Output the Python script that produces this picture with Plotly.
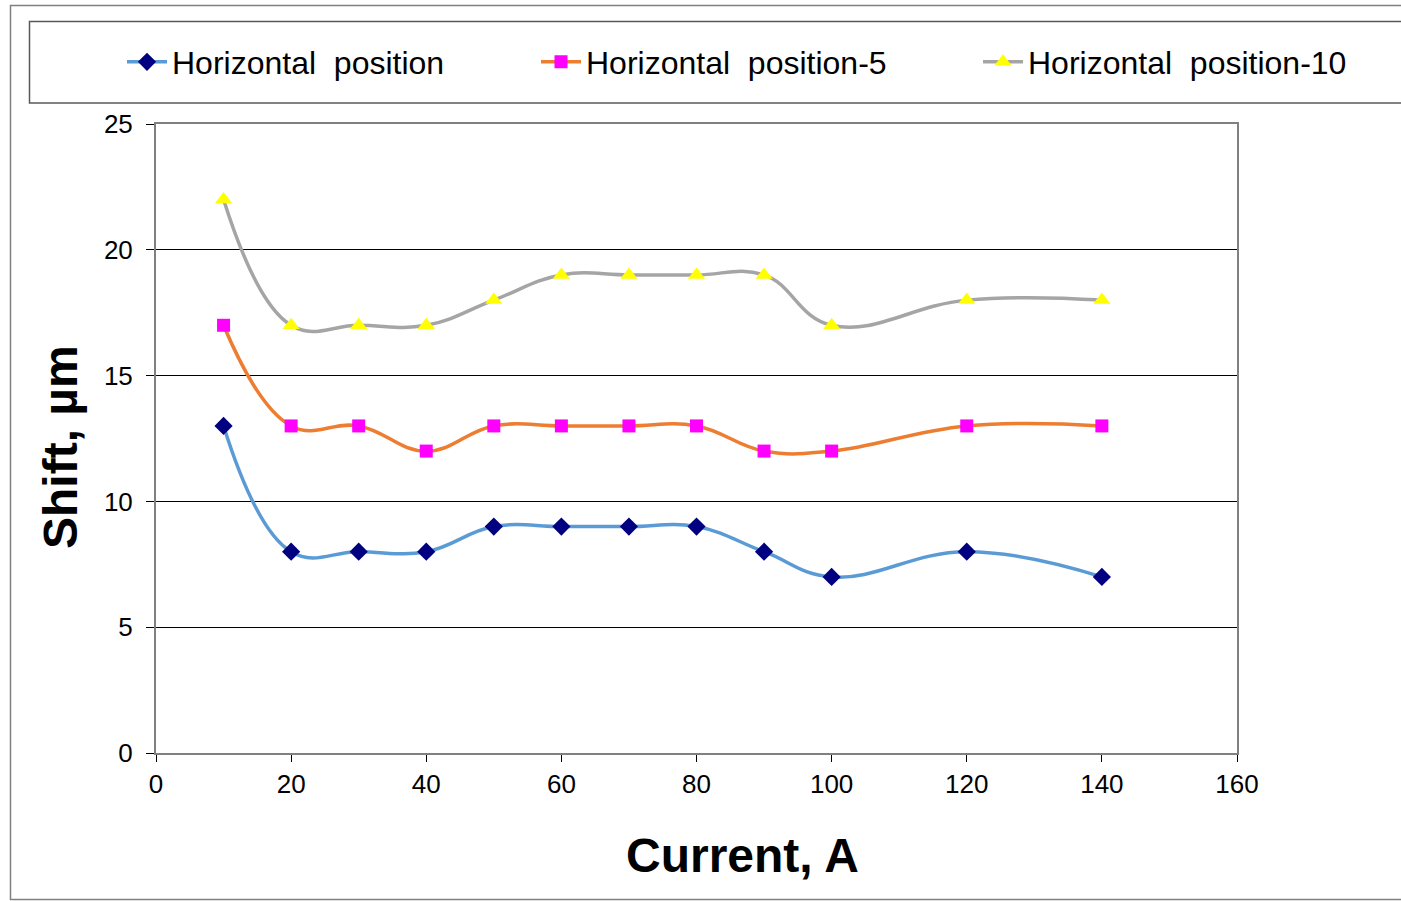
import plotly.graph_objects as go

# Measured data: shift vs. current for three horizontal positions
current = [10, 20, 30, 40, 50, 60, 70, 80, 90, 100, 120, 140]
shift_pos = [13, 8, 8, 8, 9, 9, 9, 9, 8, 7, 8, 7]
shift_pos5 = [17, 13, 13, 12, 13, 13, 13, 13, 12, 12, 13, 13]
shift_pos10 = [22, 17, 17, 17, 18, 19, 19, 19, 19, 17, 18, 18]

series_names = ["Horizontal\u00a0\u00a0position",
                "Horizontal\u00a0\u00a0position-5",
                "Horizontal\u00a0\u00a0position-10"]

x_ticks = [0, 20, 40, 60, 80, 100, 120, 140, 160]
y_ticks = [0, 5, 10, 15, 20, 25]

FONT = "Liberation Sans, Arial, sans-serif"
W, H = 1401, 901
ML, MR, MT, MB = 156, 164, 124, 148
PW, PH = W - ML - MR, H - MT - MB


def px(x):
    return (x - ML) / PW


def py(y):
    return (H - MB - y) / PH


fig = go.Figure()

styles = [
    (shift_pos, "#5B9BD5", "#000080", "diamond", 14, "legend"),
    (shift_pos5, "#ED7D31", "#FF00FF", "square", 13, "legend2"),
    (shift_pos10, "#A5A5A5", "#FFFF00", "triangle-up", 15, "legend3"),
]
for (vals, lc, mc, sym, ms, lg), name in zip(styles, series_names):
    fig.add_trace(go.Scatter(
        x=current, y=vals, name=name, mode="lines+markers",
        line=dict(color=lc, width=3.5, shape="spline", smoothing=1.2),
        marker=dict(color=mc, symbol=sym, size=ms, line=dict(width=0)),
        legend=lg, showlegend=True,
    ))

legend_common = dict(
    orientation="h", bgcolor="rgba(0,0,0,0)", borderwidth=0,
    font=dict(family=FONT, size=32, color="#000000"),
    xref="container", yref="container",
    yanchor="middle", xanchor="left", itemwidth=40, visible=True,
)
fig.update_layout(
    width=W, height=H,
    margin=dict(l=ML, r=MR, t=MT, b=MB),
    paper_bgcolor="#FFFFFF", plot_bgcolor="#FFFFFF",
    font=dict(family=FONT, size=26, color="#000000"),
    showlegend=True,
    legend=dict(x=122 / W, y=1 - 62 / H, **legend_common),
    legend2=dict(x=536 / W, y=1 - 62 / H, **legend_common),
    legend3=dict(x=978 / W, y=1 - 62 / H, **legend_common),
    xaxis=dict(
        range=[0, 160], tickvals=x_ticks, ticks="outside", ticklen=7,
        tickcolor="#000000", tickwidth=1, showgrid=False, zeroline=False,
        showline=True, linecolor="#808080", linewidth=2, mirror=True,
        tickfont=dict(family=FONT, size=26),
    ),
    yaxis=dict(
        range=[0, 25], tickvals=y_ticks, ticks="outside", ticklen=8,
        tickcolor="#000000", tickwidth=1, showgrid=True, gridcolor="#000000",
        gridwidth=1, zeroline=False, ticklabelstandoff=8,
        showline=True, linecolor="#808080", linewidth=2, mirror=True,
        tickfont=dict(family=FONT, size=26),
    ),
    annotations=[
        dict(text="<b>Current, A</b>", xref="paper", yref="paper",
             x=px(742), y=py(855), xanchor="center", yanchor="middle",
             showarrow=False, font=dict(family=FONT, size=48)),
        dict(text="<b>Shift, µm</b>", xref="paper", yref="paper",
             x=px(60), y=py(447), xanchor="center", yanchor="middle",
             textangle=-90, showarrow=False, font=dict(family=FONT, size=48)),
    ],
    shapes=[
        # outer chart frame
        dict(type="rect", xref="paper", yref="paper",
             x0=px(10.5), x1=px(1410), y0=py(899.5), y1=py(5.5),
             line=dict(color="#808080", width=1.5), layer="below"),
        # legend frame
        dict(type="rect", xref="paper", yref="paper",
             x0=px(29.5), x1=px(1410), y0=py(103), y1=py(21.5),
             line=dict(color="#595959", width=1.5), layer="below"),
    ],
)

fig.write_html("out.html")
